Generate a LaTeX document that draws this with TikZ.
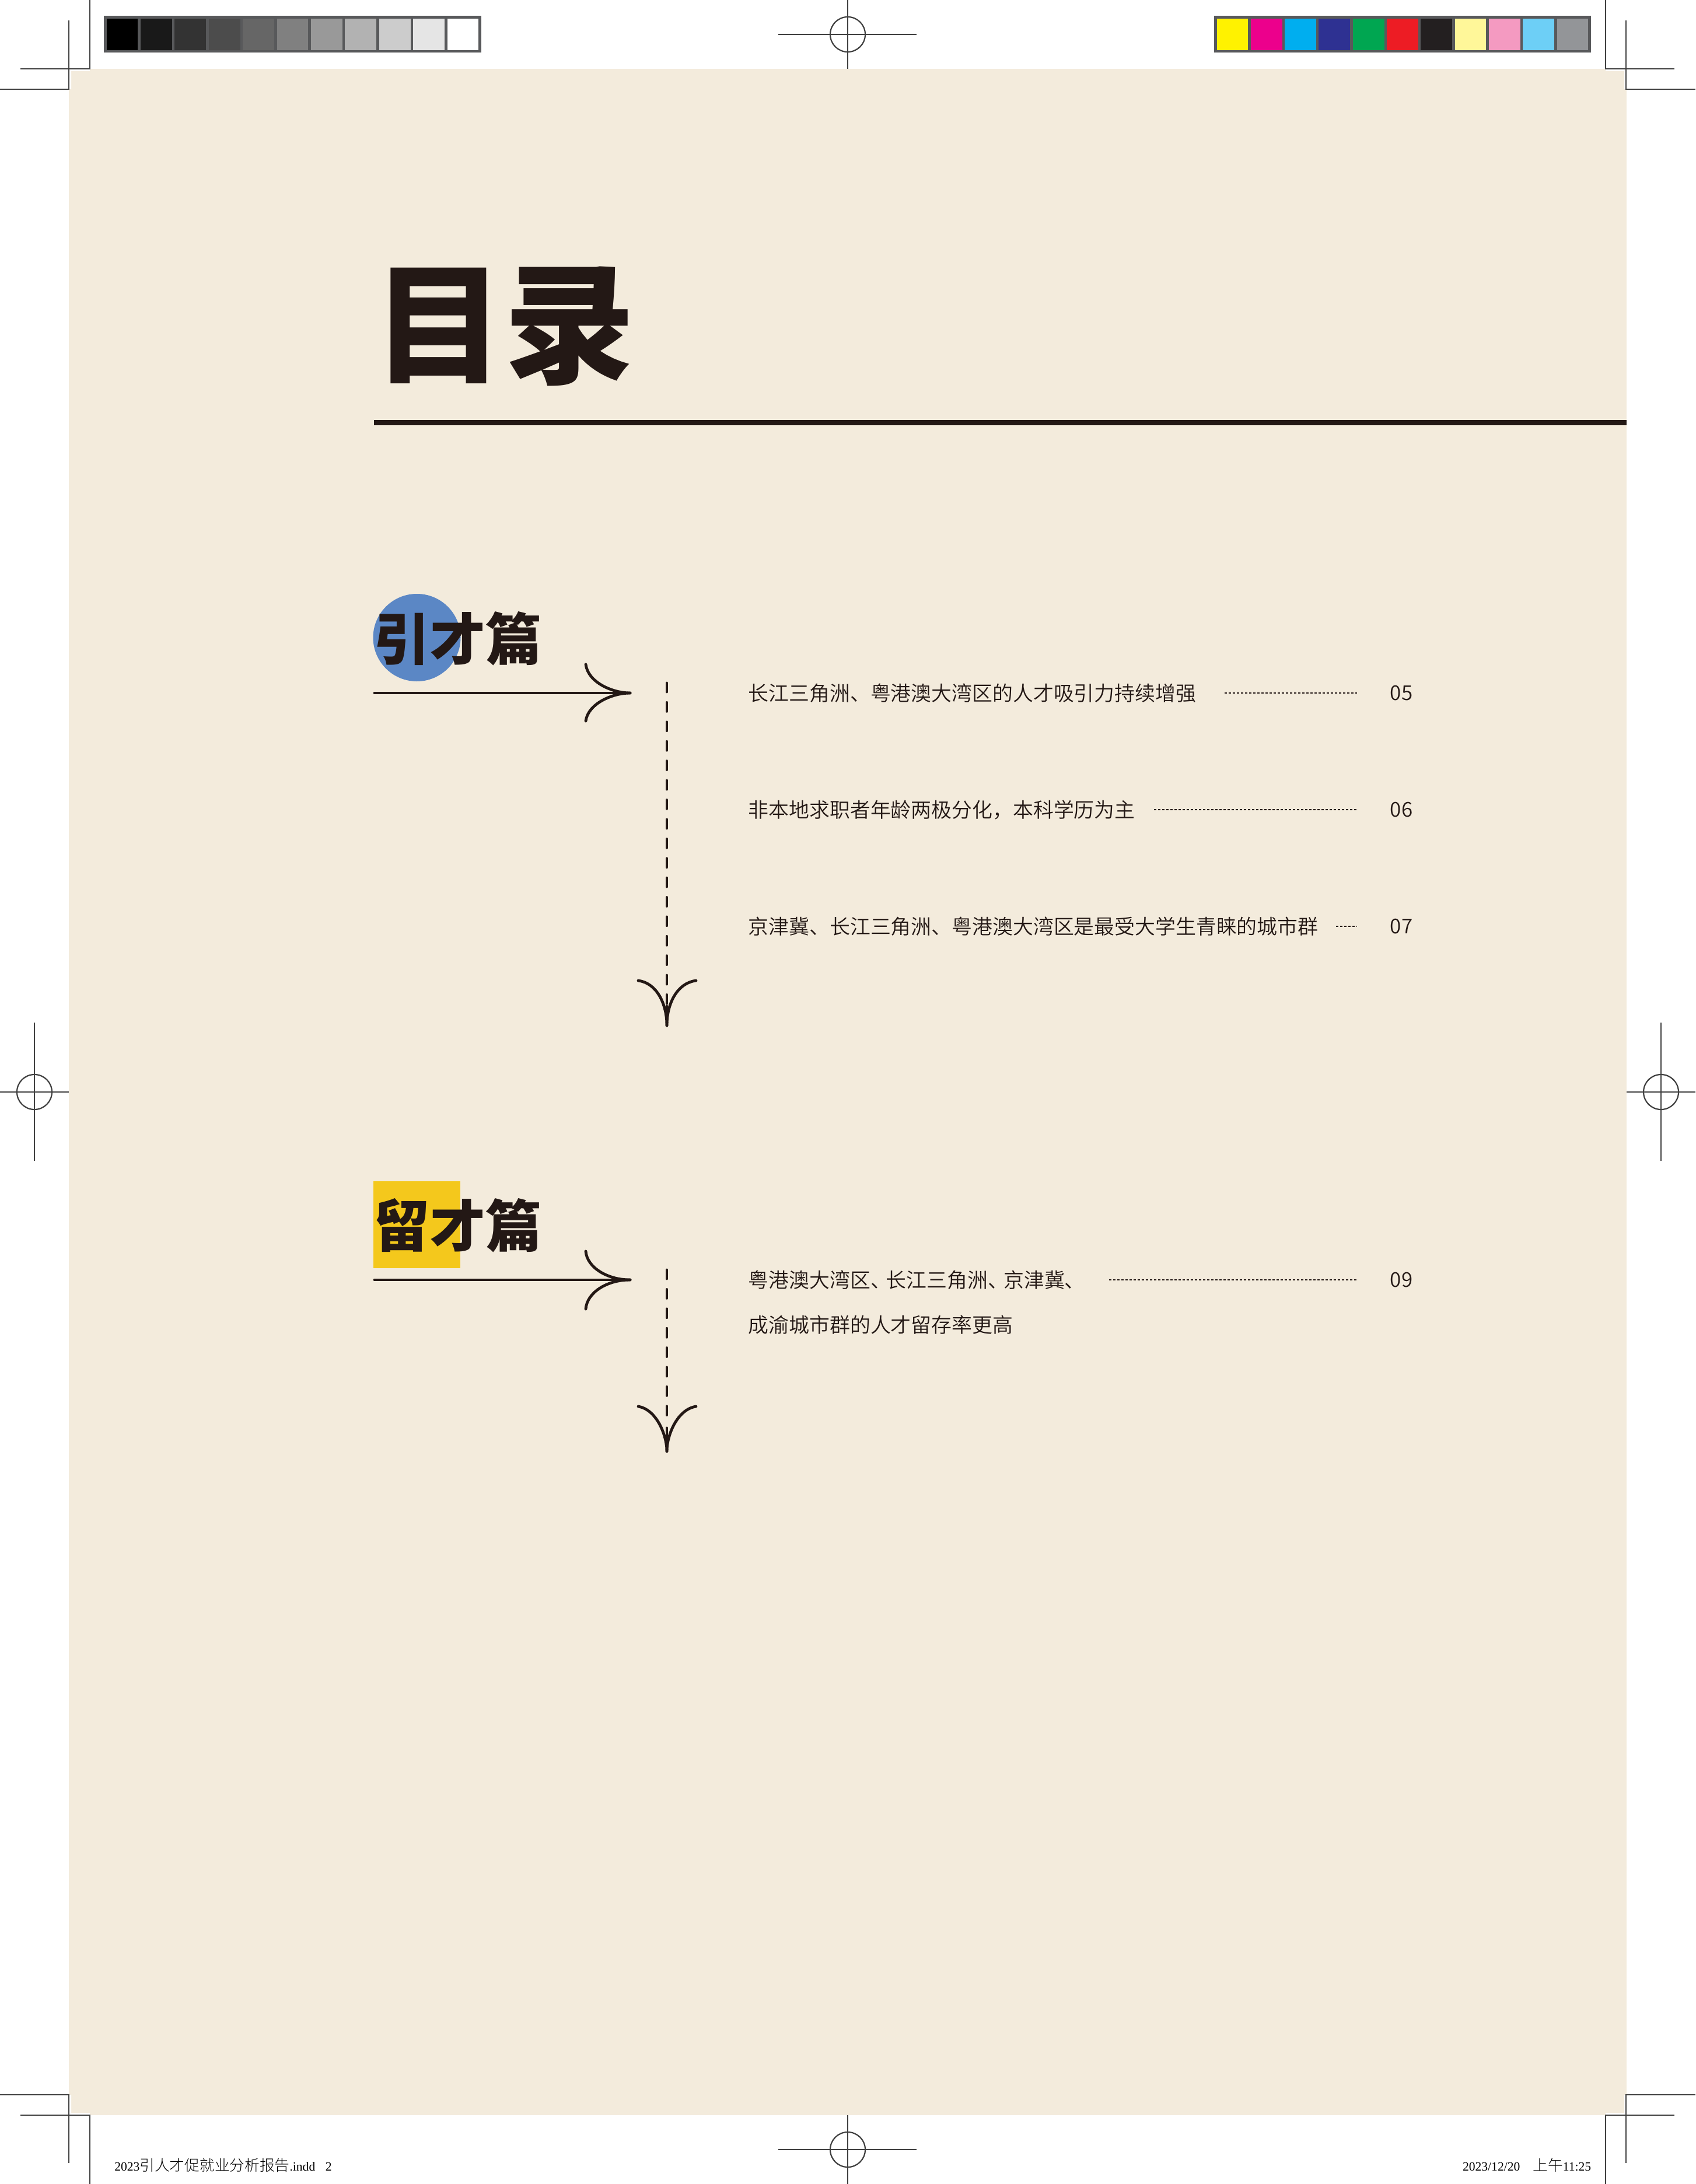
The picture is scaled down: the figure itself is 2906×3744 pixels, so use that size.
\documentclass[tikz,border=0pt]{standalone}
\usepackage{fontspec}
\setmainfont{Liberation Serif}
\newfontfamily\titlefont{Noto Sans CJK SC Black}
\newfontfamily\bodyfont{Noto Sans CJK SC DemiLight}
\newfontfamily\footfont[Scale=1.19]{Noto Sans CJK SC Light}
\definecolor{paper}{HTML}{F3EBDC}
\definecolor{ink}{HTML}{231815}
\definecolor{trimgray}{HTML}{404040}
\definecolor{stripgray}{HTML}{58595B}
\definecolor{dotblue}{HTML}{5B87C5}
\definecolor{boxyellow}{HTML}{F4C81C}
\tikzstyle{cell}=[rectangle, draw=stripgray, line width=1.125pt, minimum width=14.6pt, minimum height=14.625pt, inner sep=0pt]
\tikzstyle{trim}=[draw=trimgray, line width=0.55pt]
\tikzstyle{big}=[inner sep=0pt, anchor=west, text=ink, font=\titlefont\fontsize{56pt}{56pt}\selectfont]
\tikzstyle{head}=[inner sep=0pt, anchor=west, text=ink, font=\titlefont\fontsize{24pt}{24pt}\selectfont]
\tikzstyle{entry}=[inner sep=0pt, anchor=west, text=ink, font=\bodyfont\fontsize{8.72pt}{8.72pt}\selectfont]
\tikzstyle{pagenum}=[inner sep=0pt, anchor=east, text=ink, font=\bodyfont\fontsize{8.75pt}{8.75pt}\selectfont]
\tikzstyle{leader}=[draw=ink, line width=0.45pt, dash pattern=on 1pt off 0.75pt]
\tikzstyle{stem}=[draw=ink, line width=1.2pt, line cap=round]
\tikzstyle{stemdash}=[stem, dash pattern=on 3.75pt off 4.6pt]
\tikzstyle{foot}=[inner sep=0pt, text=black, font=\fontsize{5.4pt}{5.4pt}\selectfont]

\begin{document}
\begin{tikzpicture}[x=0.25pt, y=-0.25pt]
    \useasboundingbox (0, 0) rectangle (2906, 3744);
    \fill[paper] (118, 118) rectangle (2788, 3626);
    \fill[white] (118, 118) rectangle (154, 122) (118, 118) rectangle (122, 153);
    \fill[white] (2752, 118) rectangle (2788, 122) (2784, 118) rectangle (2788, 153);
    \fill[white] (118, 3622) rectangle (154, 3626) (118, 3591) rectangle (122, 3626);
    \fill[white] (2752, 3622) rectangle (2788, 3626) (2784, 3591) rectangle (2788, 3626);

    \draw[trim] (154, 0)--(154, 118)--(35, 118) (118, 35)--(118, 153)--(0, 153);
    \draw[trim] (2752, 0)--(2752, 118)--(2870, 118) (2787, 35)--(2787, 153)--(2906, 153);
    \draw[trim] (0, 3591)--(118, 3591)--(118, 3708) (35, 3626)--(154, 3626)--(154, 3744);
    \draw[trim] (2906, 3591)--(2787, 3591)--(2787, 3708) (2870, 3626)--(2752, 3626)--(2752, 3744);
    \foreach \cx/\cy in {59/1872, 2847/1872, 1453/59, 1453/3685} {
        \draw[trim] (\cx, \cy) circle (30);
    }
    \draw[trim] (59, 1753)--(59, 1990) (0, 1872)--(118, 1872);
    \draw[trim] (2847, 1753)--(2847, 1990) (2788, 1872)--(2906, 1872);
    \draw[trim] (1334, 59)--(1571, 59) (1453, 0)--(1453, 118);
    \draw[trim] (1334, 3685)--(1571, 3685) (1453, 3626)--(1453, 3744);

    \foreach \i/\p in {0/100, 1/90, 2/80, 3/70, 4/60, 5/50, 6/40, 7/30, 8/20, 9/10, 10/0} {
        \node[cell, fill=black!\p!white] (g\i) at ({209.5 + 58.4 * \i}, 59) {};
    }
    \foreach \i/\c in {0/FFF200, 1/EC008C, 2/00AEEF, 3/2E3192, 4/00A651, 5/ED1C24, 6/231F20, 7/FFF799, 8/F49AC1, 9/6DCFF6, 10/939598} {
        \definecolor{swatch}{HTML}{\c}
        \node[cell, fill=swatch] (k\i) at ({2112.5 + 58.3 * \i}, 59) {};
    }

    \node[big] (title) at (640, 559) {目录};
    \coordinate (ruleL) at (641, 724.5);
    \coordinate (ruleR) at (2788, 724.5);
    \draw[ink, line width=2.25pt] (ruleL)--(ruleR);

    \node[circle, fill=dotblue, minimum size=37.5pt, inner sep=0pt] (dot) at (714.5, 1093) {};
    \node[head] (h1) at (640, 1095) {引才篇};
    \coordinate (a1) at (642, 1188);
    \coordinate (a2) at (1080, 1188);
    \draw[stem] (a1)--(a2);
    \draw[stem] (1004, 1139) .. controls (1008, 1170) and (1050, 1188) .. (a2);
    \draw[stem] (1004, 1236) .. controls (1008, 1206) and (1050, 1188) .. (a2);
    \coordinate (b1) at (1143, 1171);
    \coordinate (b2) at (1143, 1758);
    \draw[stemdash] (b1)--(1143, 1726);
    \draw[stem] (1143, 1725)--(b2);
    \draw[stem] (1094, 1681) .. controls (1125, 1685) and (1143, 1720) .. (b2);
    \draw[stem] (1193, 1681) .. controls (1161, 1685) and (1143, 1720) .. (b2);

    \node[entry] (t1) at (1282, 1188) {长江三角洲、粤港澳大湾区的人才吸引力持续增强};
    \node[pagenum] (n1) at (2422, 1188) {05};
    \draw[leader, shorten <=12pt, shorten >=14pt] (t1.east)--(n1.west);
    \node[entry] (t2) at (1282, 1388) {非本地求职者年龄两极分化，本科学历为主};
    \node[pagenum] (n2) at (2422, 1388) {06};
    \draw[leader, shorten <=7.85pt, shorten >=14pt] (t2.east)--(n2.west);
    \node[entry] (t3) at (1282, 1588) {京津冀、长江三角洲、粤港澳大湾区是最受大学生青睐的城市群};
    \node[pagenum] (n3) at (2422, 1588) {07};
    \draw[leader, shorten <=7.5pt, shorten >=14pt] (t3.east)--(n3.west);

    \node[rectangle, fill=boxyellow, minimum size=37.25pt, inner sep=0pt] (box) at (714.5, 2099.5) {};
    \node[head] (h2) at (640, 2101) {留才篇};
    \coordinate (c1) at (642, 2194);
    \coordinate (c2) at (1080, 2194);
    \draw[stem] (c1)--(c2);
    \draw[stem] (1004, 2145) .. controls (1006, 2172) and (1040, 2194) .. (c2);
    \draw[stem] (1004, 2244) .. controls (1006, 2216) and (1040, 2194) .. (c2);
    \coordinate (d1) at (1143, 2177);
    \coordinate (d2) at (1143, 2488);
    \draw[stemdash] (d1)--(1143, 2432);
    \draw[stem] (1143, 2448)--(d2);
    \draw[stem] (1094, 2411) .. controls (1125, 2416) and (1143, 2460) .. (d2);
    \draw[stem] (1193, 2411) .. controls (1161, 2416) and (1143, 2460) .. (d2);

    \node[entry] (t4) at (1282, 2194) {粤港澳大湾区\hbox{、}\kern-2pt 长江三角洲\hbox{、}\kern-2pt 京津冀、};
    \node[entry] (t5) at (1282, 2271) {成渝城市群的人才留存率更高};
    \node[pagenum] (n4) at (2422, 2194) {09};
    \draw[leader, shorten <=10pt, shorten >=14pt] (t4.east)--(n4.west);

    \node[foot, anchor=west] (f1) at (195.5, 3712) {2023{\footfont 引人才促就业分析报告}.indd\kern4.4pt 2};
    \node[foot, anchor=east] (f2) at (2728, 3712) {2023/12/20\kern5.5pt{\footfont 上午}11:25};
\end{tikzpicture}
\end{document}
